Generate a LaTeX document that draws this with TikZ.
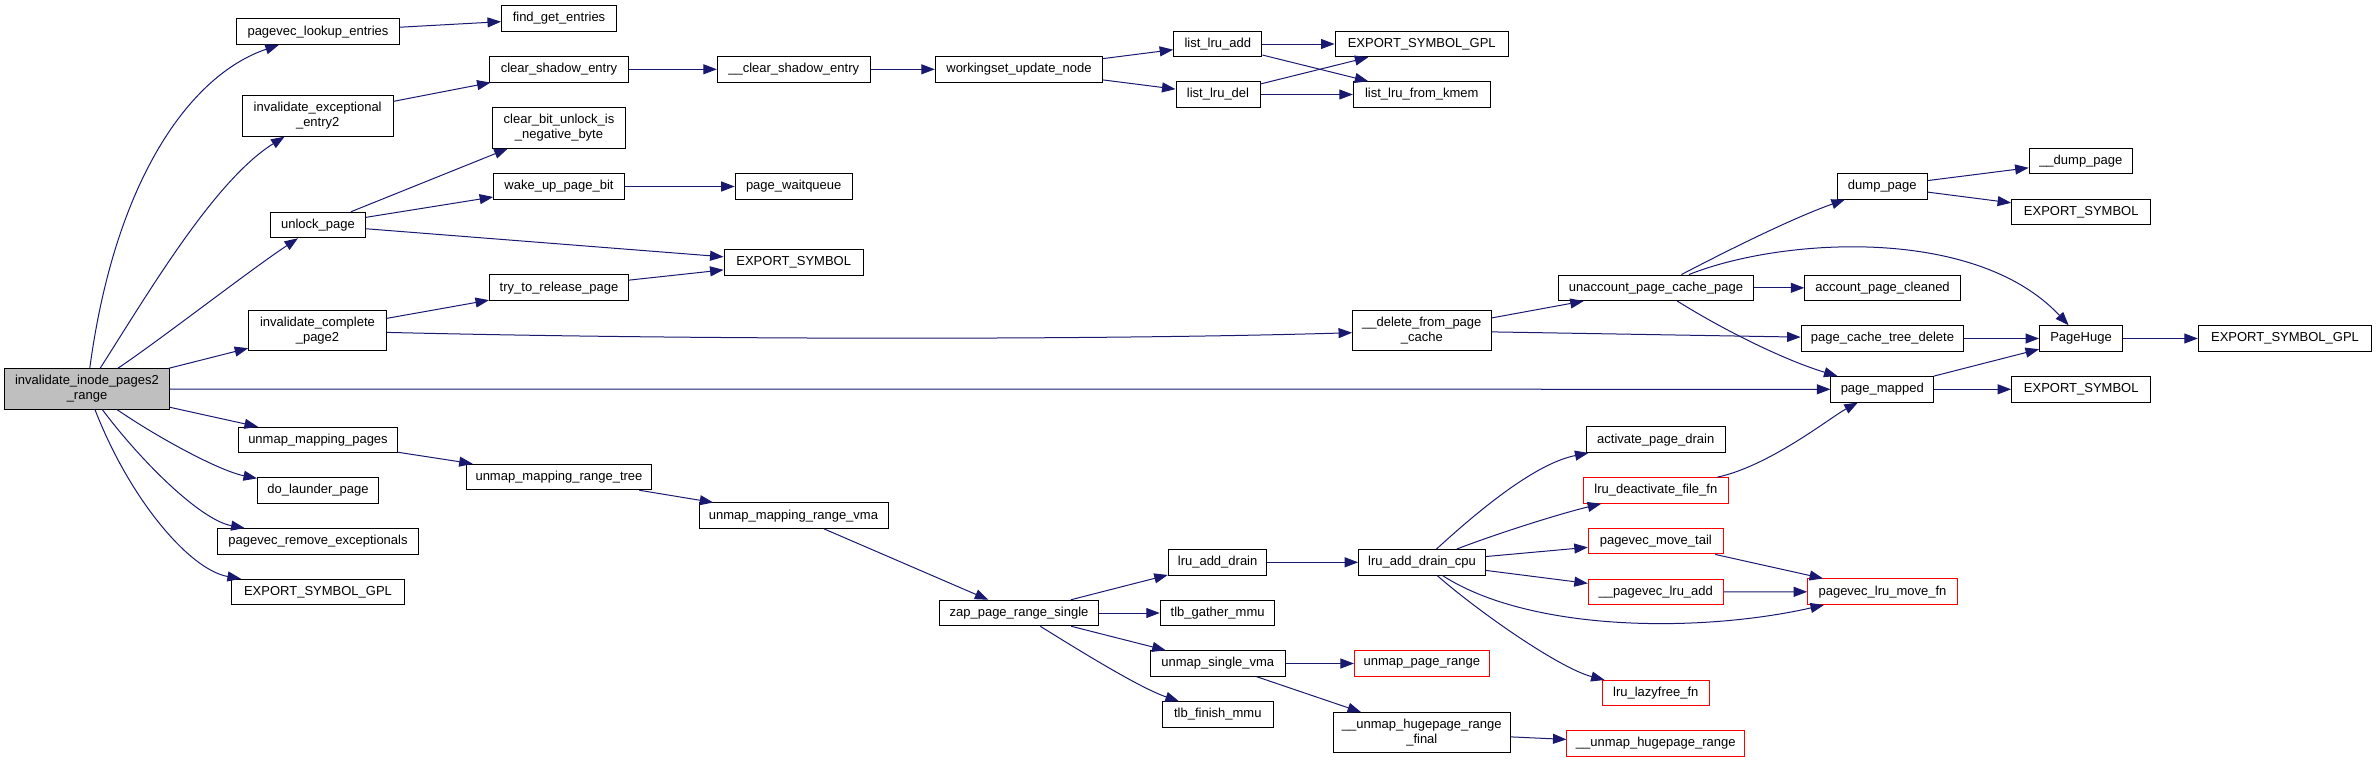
\documentclass[tikz,border=0pt]{standalone}
\usepackage{fontspec}
\setmainfont{Liberation Sans}
\usetikzlibrary{arrows.meta}
\definecolor{edgec}{HTML}{191970}
\definecolor{redc}{HTML}{FF0000}
\definecolor{mainfill}{HTML}{BFBFBF}
\tikzset{
  box/.style={draw=black, line width=1pt, fill=white, inner sep=0pt, minimum height=25.5pt,
    font=\fontsize{13}{15}\selectfont, align=center, text=black},
  box2/.style={box, minimum height=40.3pt},
  redbox/.style={box, draw=redc},
  conn/.style={draw=edgec, line width=1pt, -{Triangle[length=13.5pt,width=10pt]}}
}
\begin{document}
\begin{tikzpicture}[x=1pt,y=-1pt]
\useasboundingbox (0,0) rectangle (2376,763);
% column 1
\node[box2, fill=mainfill, minimum width=164.5pt] (main) at (87,389) {invalidate\_inode\_pages2\\\_range};
% column 2
\node[box, minimum width=163pt] (pvle) at (318,31.7) {pagevec\_lookup\_entries};
\node[box2, minimum width=150.6pt] (iee2) at (317.7,116) {invalidate\_exceptional\\\_entry2};
\node[box, minimum width=95pt] (ulp) at (318,225) {unlock\_page};
\node[box2, minimum width=137.6pt] (icp2) at (317.5,330.7) {invalidate\_complete\\\_page2};
\node[box, minimum width=159pt] (ump) at (318,440) {unmap\_mapping\_pages};
\node[box, minimum width=121pt] (dlp) at (318,490.5) {do\_launder\_page};
\node[box, minimum width=201.7pt] (pre) at (318,541.3) {pagevec\_remove\_exceptionals};
\node[box, minimum width=172.8pt] (esgL) at (318,592) {EXPORT\_SYMBOL\_GPL};
% column 3
\node[box, minimum width=115pt] (fge) at (559,18.5) {find\_get\_entries};
\node[box, minimum width=139pt] (cse) at (559,69.3) {clear\_shadow\_entry};
\node[box2, minimum width=133.6pt] (cbu) at (559,128) {clear\_bit\_unlock\_is\\\_negative\_byte};
\node[box, minimum width=130.7pt] (wupb) at (559,186.5) {wake\_up\_page\_bit};
\node[box, minimum width=139pt] (ttrp) at (559,287.7) {try\_to\_release\_page};
\node[box, minimum width=185pt] (ummrt) at (559,477) {unmap\_mapping\_range\_tree};
% column 4
\node[box, minimum width=152.7pt] (ucse) at (793.7,69.3) {\_\_clear\_shadow\_entry};
\node[box, minimum width=117pt] (pwq) at (793.7,186.5) {page\_waitqueue};
\node[box, minimum width=139.3pt] (esA) at (793.7,262.3) {EXPORT\_SYMBOL};
\node[box, minimum width=189pt] (ummrv) at (793.5,515.7) {unmap\_mapping\_range\_vma};
% column 5
\node[box, minimum width=167.4pt] (wun) at (1019,69.3) {workingset\_update\_node};
\node[box, minimum width=159.4pt] (zap) at (1019,613) {zap\_page\_range\_single};
% column 6
\node[box, minimum width=88.3pt] (lla) at (1217.8,44) {list\_lru\_add};
\node[box, minimum width=84pt] (lld) at (1218,94.5) {list\_lru\_del};
\node[box, minimum width=98.7pt] (lad) at (1217.6,562.3) {lru\_add\_drain};
\node[box, minimum width=114.7pt] (tgm) at (1217.6,613) {tlb\_gather\_mmu};
\node[box, minimum width=134.9pt] (usv) at (1217.8,663.5) {unmap\_single\_vma};
\node[box, minimum width=110.7pt] (tfm) at (1217.8,714.5) {tlb\_finish\_mmu};
% column 7
\node[box, minimum width=173.3pt] (esgT) at (1421.7,44) {EXPORT\_SYMBOL\_GPL};
\node[box, minimum width=137pt] (llfk) at (1421.8,94.5) {list\_lru\_from\_kmem};
\node[box2, minimum width=138.5pt] (dfpc) at (1421.8,330.7) {\_\_delete\_from\_page\\\_cache};
\node[box, minimum width=126.7pt] (ladc) at (1422,562.3) {lru\_add\_drain\_cpu};
\node[redbox, minimum width=134.7pt] (upr) at (1421.8,663.5) {unmap\_page\_range};
\node[box2, minimum width=177.6pt] (uhrf) at (1421.8,732.8) {\_\_unmap\_hugepage\_range\\\_final};
% column 8
\node[box, minimum width=194.8pt] (uapc) at (1656,287.8) {unaccount\_page\_cache\_page};
\node[box, minimum width=139.3pt] (apd) at (1655.7,439.7) {activate\_page\_drain};
\node[redbox, minimum width=145pt] (ldff) at (1655.8,490.5) {lru\_deactivate\_file\_fn};
\node[redbox, minimum width=135pt] (pmt) at (1655.8,541.2) {pagevec\_move\_tail};
\node[redbox, minimum width=135pt] (plra) at (1655.8,592) {\_\_pagevec\_lru\_add};
\node[redbox, minimum width=106.7pt] (llf) at (1655.8,693.2) {lru\_lazyfree\_fn};
\node[redbox, minimum width=177.5pt] (uhr) at (1655.7,743.5) {\_\_unmap\_hugepage\_range};
% column 9
\node[box, minimum width=89.6pt] (dp) at (1882.3,186.3) {dump\_page};
\node[box, minimum width=155.4pt] (apc) at (1882.5,287.8) {account\_page\_cleaned};
\node[box, minimum width=162.8pt] (pctd) at (1882.5,338.5) {page\_cache\_tree\_delete};
\node[box, minimum width=102.8pt] (pm) at (1882.3,389.3) {page\_mapped};
\node[redbox, minimum width=149.6pt] (plmf) at (1882.5,591.7) {pagevec\_lru\_move\_fn};
% column 10
\node[box, minimum width=103.3pt] (dump) at (2080.8,161.2) {\_\_dump\_page};
\node[box, minimum width=139.2pt] (esD) at (2081.2,211.8) {EXPORT\_SYMBOL};
\node[box, minimum width=83pt] (ph) at (2081,338.5) {PageHuge};
\node[box, minimum width=139.2pt] (esM) at (2081.2,389.3) {EXPORT\_SYMBOL};
% column 11
\node[box, minimum width=173.4pt] (esgR) at (2285,338.5) {EXPORT\_SYMBOL\_GPL};

% edges from main
\draw[conn] (main) .. controls (115,180) and (190,75) .. (pvle);
\draw[conn] (main) .. controls (150,290) and (215,180) .. (iee2);
\draw[conn] (main) .. controls (160,340) and (250,270) .. (ulp);
\draw[conn] (main) -- (icp2);
\draw[conn] (main) -- (pm);
\draw[conn] (main) -- (ump);
\draw[conn] (main) .. controls (160,439) and (220,471) .. (dlp);
\draw[conn] (main) .. controls (140,460) and (200,520) .. (pre);
\draw[conn] (main) .. controls (130,500) and (190,570) .. (esgL);
% column 2 edges
\draw[conn] (pvle) -- (fge);
\draw[conn] (iee2) -- (cse);
\draw[conn] (ulp) -- (cbu);
\draw[conn] (ulp) -- (wupb);
\draw[conn] (ulp) -- (esA);
\draw[conn] (icp2) -- (ttrp);
\draw[conn] (icp2) .. controls (700,340) and (1100,340) .. (dfpc);
\draw[conn] (ump) -- (ummrt);
% column 3 edges
\draw[conn] (cse) -- (ucse);
\draw[conn] (wupb) -- (pwq);
\draw[conn] (ttrp) -- (esA);
\draw[conn] (ummrt) -- (ummrv);
% column 4 and 5
\draw[conn] (ucse) -- (wun);
\draw[conn] (ummrv) -- (zap);
\draw[conn] (wun) -- (lla);
\draw[conn] (wun) -- (lld);
\draw[conn] (zap) -- (lad);
\draw[conn] (zap) -- (tgm);
\draw[conn] (zap) -- (usv);
\draw[conn] (zap) .. controls (1080,651) and (1140,688) .. (tfm);
% column 6
\draw[conn] (lla) -- (esgT);
\draw[conn] (lla) -- (llfk);
\draw[conn] (lld) -- (esgT);
\draw[conn] (lld) -- (llfk);
\draw[conn] (lad) -- (ladc);
\draw[conn] (usv) -- (upr);
\draw[conn] (usv) -- (uhrf);
% column 7
\draw[conn] (uhrf) -- (uhr);
\draw[conn] (ladc) .. controls (1490,500) and (1540,462.5) .. (apd);
\draw[conn] (ladc) .. controls (1500,532.5) and (1560,513.7) .. (ldff);
\draw[conn] (ladc) -- (pmt);
\draw[conn] (ladc) -- (plra);
\draw[conn] (ladc) .. controls (1530,632) and (1700,633) .. (plmf);
\draw[conn] (ladc) .. controls (1480,613) and (1560,668.4) .. (llf);
\draw[conn] (dfpc) -- (uapc);
\draw[conn] (dfpc) -- (pctd);
% column 8
\draw[conn] (pmt) -- (plmf);
\draw[conn] (plra) -- (plmf);
\draw[conn] (ldff) .. controls (1770,465.8) and (1830,417.6) .. (pm);
\draw[conn] (uapc) .. controls (1720,254.4) and (1790,219) .. (dp);
\draw[conn] (uapc) .. controls (1780,238) and (1975,225) .. (ph);
\draw[conn] (uapc) -- (apc);
\draw[conn] (uapc) .. controls (1730,334) and (1790,362) .. (pm);
% column 9
\draw[conn] (pctd) -- (ph);
\draw[conn] (pm) -- (ph);
\draw[conn] (pm) -- (esM);
\draw[conn] (dp) -- (dump);
\draw[conn] (dp) -- (esD);
% column 10
\draw[conn] (ph) -- (esgR);
\end{tikzpicture}
\end{document}
